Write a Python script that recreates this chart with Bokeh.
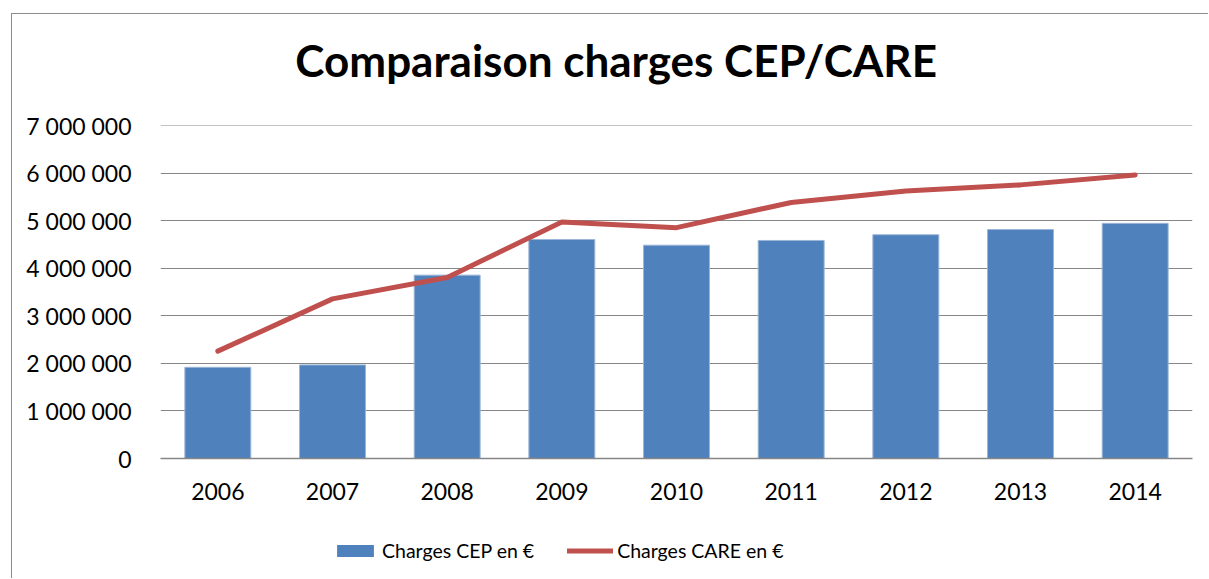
from bokeh.plotting import figure
from bokeh.layouts import column
from bokeh.models import (Range1d, FactorRange, FixedTicker, CustomJSTickFormatter,
                          Legend, LegendItem, ColumnDataSource, Label)
from bokeh.embed import file_html
from bokeh.resources import INLINE

# ---- data ----
years = ["2006", "2007", "2008", "2009", "2010", "2011", "2012", "2013", "2014"]
charges_cep = [1920000, 1970000, 3860000, 4610000, 4490000, 4590000, 4710000, 4820000, 4950000]
charges_care = [2260000, 3360000, 3810000, 4980000, 4860000, 5390000, 5630000, 5760000, 5970000]
y_ticks = [0, 1000000, 2000000, 3000000, 4000000, 5000000, 6000000, 7000000]
title_text = "Comparaison  charges CEP/CARE"
label_cep = "Charges CEP en €"
label_care = "Charges CARE en €"

FONT = "Lato"
BLUE = "#4F81BD"
RED = "#C0504D"
GRID = "#868686"

src = ColumnDataSource(dict(year=years, cep=charges_cep, care=charges_care))

# ---- title strip ----
p0 = figure(width=1196, height=96, output_backend="svg", toolbar_location=None,
            x_range=Range1d(0, 1), y_range=Range1d(0, 1),
            min_border=0, x_axis_type=None, y_axis_type=None)
p0.outline_line_color = None
p0.xgrid.grid_line_color = None
p0.ygrid.grid_line_color = None
p0.border_fill_color = "white"
p0.add_layout(Label(x=461, y=51, x_units="screen", y_units="screen", text=title_text,
                    text_font=FONT, text_font_style="bold", text_font_size="44px",
                    text_align="center", text_baseline="alphabetic", text_color="black"))

# ---- main chart ----
p = figure(width=1196, height=410, output_backend="svg", toolbar_location=None,
           x_range=FactorRange(*years, range_padding=0),
           y_range=Range1d(0, 7010000),
           min_border_left=148, min_border_right=16, min_border_top=15, min_border_bottom=62)
p.outline_line_color = None
p.background_fill_color = "white"
p.border_fill_color = "white"

bars = p.vbar(x="year", top="cep", width=0.575, source=src, fill_color=BLUE,
              line_color="#9DB5D6", line_width=1)
line = p.line(x="year", y="care", source=src, line_color=RED, line_width=5,
              line_cap="round", line_join="round")

p.yaxis.ticker = FixedTicker(ticks=y_ticks)
p.yaxis.formatter = CustomJSTickFormatter(code="""
    return Math.round(tick).toString().replace(/\\B(?=(\\d{3})+(?!\\d))/g, " ");
""")
p.yaxis.axis_line_color = None
p.yaxis.major_tick_line_color = None
p.yaxis.minor_tick_line_color = None
p.yaxis.major_label_standoff = 23
p.yaxis.major_label_text_font = FONT
p.yaxis.major_label_text_font_size = "23px"
p.yaxis.major_label_text_color = "black"

p.xaxis.axis_line_color = GRID
p.xaxis.axis_line_width = 1.5
p.xaxis.major_tick_line_color = None
p.xaxis.minor_tick_line_color = None
p.xaxis.major_label_standoff = 18
p.xaxis.major_label_text_font = FONT
p.xaxis.major_label_text_font_size = "23px"
p.xaxis.major_label_text_color = "black"

p.xgrid.grid_line_color = None
p.ygrid.grid_line_color = GRID
p.ygrid.grid_line_width = 1.2

# ---- legend strip (shares the categories; its y window keeps the glyphs out of view) ----
p2 = figure(width=1196, height=58, output_backend="svg", toolbar_location=None,
            x_range=p.x_range, y_range=Range1d(100000000, 200000000),
            min_border=0, x_axis_type=None, y_axis_type=None)
p2.outline_line_color = None
p2.xgrid.grid_line_color = None
p2.ygrid.grid_line_color = None
p2.background_fill_color = "white"
p2.border_fill_color = "white"
lb = p2.vbar(x="year", top="cep", width=0.575, source=src, fill_color=BLUE, line_color=None)
ll = p2.line(x="year", y="care", source=src, line_color=RED, line_width=5, line_cap="round")

legend = Legend(items=[LegendItem(label=label_cep, renderers=[lb]),
                       LegendItem(label=label_care, renderers=[ll])],
                orientation="horizontal", location=(172, 16),
                glyph_width=46, glyph_height=15, label_standoff=4, spacing=33,
                padding=0, margin=0, border_line_color=None, background_fill_alpha=0,
                label_text_font=FONT, label_text_font_size="19.5px", label_text_color="black")
p2.add_layout(legend, "center")

layout = column(p0, p, p2, spacing=0,
                styles={"margin-left": "11px", "margin-top": "13px",
                        "border-left": "1px solid #8c8c8c", "border-top": "1px solid #8c8c8c"})

open("out.html", "w").write(file_html(layout, INLINE))
